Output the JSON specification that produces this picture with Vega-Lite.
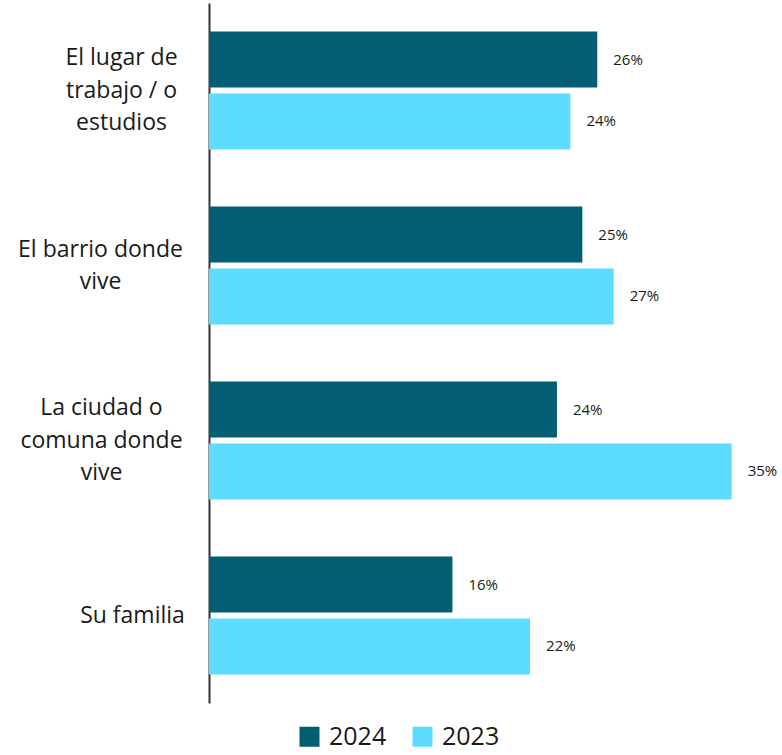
{
  "$schema": "https://vega.github.io/schema/vega-lite/v6.json",
  "autosize": "none",
  "width": 560,
  "height": 700,
  "padding": {"left": 209, "top": 3, "right": 13, "bottom": 52},
  "background": "white",
  "config": {"view": {"stroke": null}, "font": "Open Sans"},
  "data": {
    "values": [
      {"cat": "El lugar de trabajo / o estudios", "year": "2024", "value": 26.0, "label": "26%"},
      {"cat": "El lugar de trabajo / o estudios", "year": "2023", "value": 24.2, "label": "24%"},
      {"cat": "El barrio donde vive", "year": "2024", "value": 25.0, "label": "25%"},
      {"cat": "El barrio donde vive", "year": "2023", "value": 27.1, "label": "27%"},
      {"cat": "La ciudad o comuna donde vive", "year": "2024", "value": 23.3, "label": "24%"},
      {"cat": "La ciudad o comuna donde vive", "year": "2023", "value": 35.0, "label": "35%"},
      {"cat": "Su familia", "year": "2024", "value": 16.3, "label": "16%"},
      {"cat": "Su familia", "year": "2023", "value": 21.5, "label": "22%"}
    ]
  },
  "encoding": {
    "y": {
      "field": "cat",
      "type": "nominal",
      "sort": null,
      "title": null,
      "scale": {"paddingInner": 0.326, "paddingOuter": 0.163},
      "axis": {
        "ticks": false,
        "domainColor": "#333333",
        "domainWidth": 2,
        "labelAlign": "center",
        "labelBaseline": "middle",
        "labelFontSize": 23,
        "labelColor": "#1a1a1a",
        "labelLineHeight": 32.5,
        "labelLimit": 300,
        "labelPadding": {
          "condition": [
            {"test": "datum.value == 'El lugar de trabajo / o estudios'", "value": 88},
            {"test": "datum.value == 'El barrio donde vive'", "value": 109},
            {"test": "datum.value == 'La ciudad o comuna donde vive'", "value": 108}
          ],
          "value": 77
        },
        "labelOffset": {
          "condition": [
            {"test": "datum.value == 'El lugar de trabajo / o estudios' || datum.value == 'La ciudad o comuna donde vive'", "value": -32.5},
            {"test": "datum.value == 'El barrio donde vive'", "value": -16}
          ],
          "value": 0
        },
        "labelExpr": "datum.value == 'El lugar de trabajo / o estudios' ? ['El lugar de', 'trabajo / o', 'estudios'] : datum.value == 'El barrio donde vive' ? ['El barrio donde', 'vive'] : datum.value == 'La ciudad o comuna donde vive' ? ['La ciudad o', 'comuna donde', 'vive'] : datum.value"
      }
    },
    "yOffset": {
      "field": "year",
      "type": "nominal",
      "sort": ["2024", "2023"],
      "scale": {"paddingInner": 0.097, "paddingOuter": 0}
    },
    "x": {
      "field": "value",
      "type": "quantitative",
      "scale": {"domain": [0, 37.5], "nice": false},
      "axis": null
    }
  },
  "layer": [
    {
      "mark": {"type": "bar"},
      "encoding": {
        "color": {
          "field": "year",
          "type": "nominal",
          "scale": {"domain": ["2024", "2023"], "range": ["#025E73", "#5CDCFF"]},
          "legend": {
            "title": null,
            "orient": "none",
            "direction": "horizontal",
            "legendX": 88,
            "legendY": 721,
            "symbolType": "square",
            "symbolSize": 400,
            "symbolStrokeWidth": 0,
            "labelFontSize": 25,
            "labelColor": "#1a1a1a",
            "labelOffset": 7,
            "columnPadding": 23
          }
        }
      }
    },
    {
      "mark": {"type": "text", "align": "left", "baseline": "middle", "dx": 16, "fontSize": 15, "color": "#1a1a1a"},
      "encoding": {"text": {"field": "label"}}
    }
  ]
}
